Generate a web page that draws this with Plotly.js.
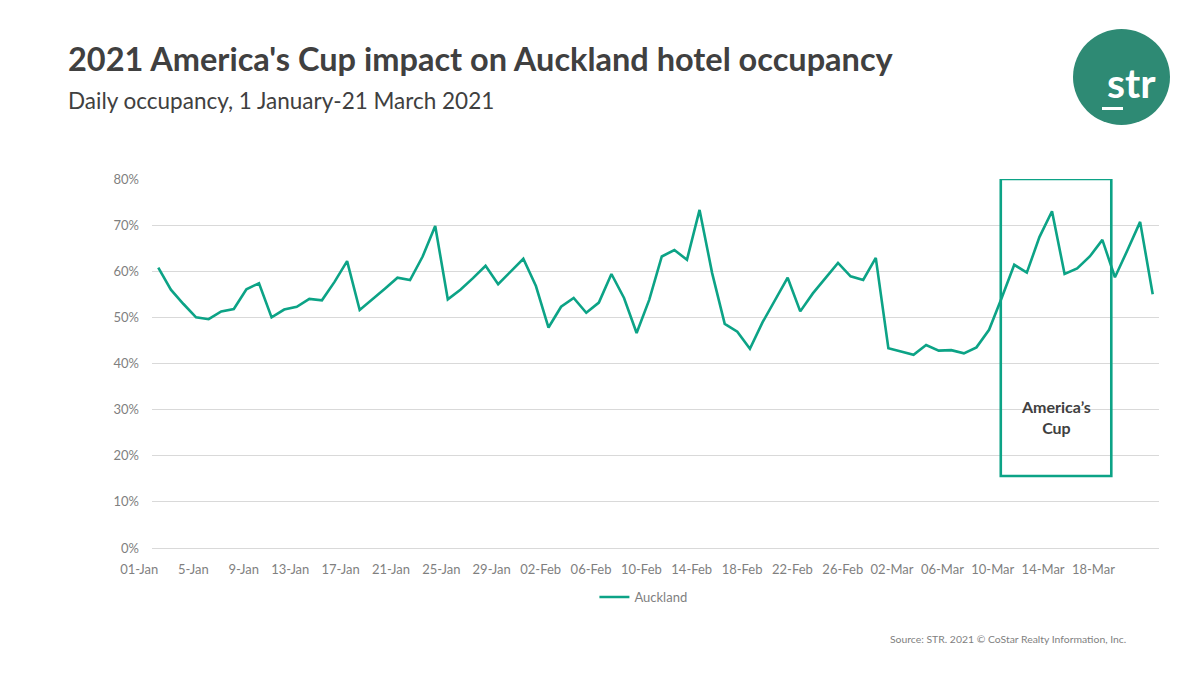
<!DOCTYPE html>
<html>
<head>
<meta charset="utf-8">
<script src="https://cdn.plot.ly/plotly-3.0.1.min.js"></script>
<style>
  html, body { margin: 0; padding: 0; background: #ffffff; }
  #chart { width: 1200px; height: 675px; }
</style>
</head>
<body>
<div id="chart"></div>
<script>
// ---- Data ----
const seriesName = 'Auckland';
const occupancy = [
  60.8, 56.0, 52.9, 50.0, 49.6, 51.3, 51.8, 56.1, 57.4, 50.0,
  51.7, 52.3, 54.0, 53.7, 57.7, 62.2, 51.6, 53.8, 56.2, 58.6,
  58.1, 63.2, 69.8, 53.9, 56.0, 58.5, 61.2, 57.2, 59.9, 62.7,
  56.8, 47.8, 52.3, 54.2, 51.0, 53.2, 59.4, 54.2, 46.6, 53.8,
  63.2, 64.6, 62.5, 73.3, 59.6, 48.6, 46.9, 43.2, 48.9, 53.8,
  58.6, 51.3, 55.2, 58.5, 61.8, 58.9, 58.1, 62.9, 43.3, 42.6,
  41.9, 44.0, 42.8, 42.9, 42.2, 43.5, 47.3, 54.2, 61.4, 59.7,
  67.4, 73.0, 59.4, 60.6, 63.2, 66.8, 58.7, 64.6, 70.7, 55.0
];
const tickLabels = ['01-Jan','5-Jan','9-Jan','13-Jan','17-Jan','21-Jan','25-Jan','29-Jan',
  '02-Feb','06-Feb','10-Feb','14-Feb','18-Feb','22-Feb','26-Feb',
  '02-Mar','06-Mar','10-Mar','14-Mar','18-Mar'];
const yTicks = [0, 10, 20, 30, 40, 50, 60, 70, 80];

// Day categories 1 Jan - 21 Mar 2021
const months = ['Jan','Feb','Mar'];
const monthDays = [31, 28, 31];
const days = [];
for (let m = 0; m < 3 && days.length < occupancy.length; m++) {
  for (let d = 1; d <= monthDays[m] && days.length < occupancy.length; d++) {
    days.push((d < 10 ? '0' + d : '' + d) + '-' + months[m]);
  }
}
const tickVals = tickLabels.map((t, i) => days[i * 4]);

// ---- Styles ----
const teal = '#0ca386';
const font = 'Lato, "Open Sans", sans-serif';

// plot area pixel helpers for paper coordinates
const L = 152, R = 1159, T = 179, B = 548;
const px = x => (x - L) / (R - L);
const py = y => (B - y) / (B - T);

const trace = {
  x: days,
  y: occupancy,
  type: 'scatter',
  mode: 'lines',
  name: seriesName,
  line: { color: teal, width: 2.6 },
  hoverinfo: 'x+y'
};

const layout = {
  width: 1200,
  height: 675,
  paper_bgcolor: '#ffffff',
  plot_bgcolor: '#ffffff',
  margin: { l: L, r: 1200 - R, t: T, b: 675 - B, pad: 0 },
  font: { family: font, color: '#7f7f7f', size: 13 },
  showlegend: true,
  legend: {
    orientation: 'h',
    x: 0.488, xanchor: 'center',
    y: py(597), yanchor: 'middle',
    font: { family: font, size: 13, color: '#7f7f7f' },
    itemwidth: 30
  },
  xaxis: {
    type: 'category',
    range: [-0.5, occupancy.length - 0.5],
    tickmode: 'array',
    tickvals: tickVals,
    ticktext: tickLabels,
    ticks: '',
    tickangle: 0,
    ticklabelposition: 'outside left',
    ticklabelstandoff: 12,
    showgrid: false,
    showline: false,
    zeroline: false,
    tickfont: { family: font, size: 13, color: '#7f7f7f' },
    fixedrange: true
  },
  yaxis: {
    range: [0, 80],
    tickmode: 'array',
    tickvals: yTicks,
    ticktext: yTicks.map(v => v + '%'),
    ticks: '',
    ticklabelstandoff: 12,
    showgrid: true,
    gridcolor: '#d9d9d9',
    gridwidth: 1,
    zeroline: true,
    zerolinecolor: '#d9d9d9',
    zerolinewidth: 1,
    showline: false,
    tickfont: { family: font, size: 13, color: '#7f7f7f' },
    fixedrange: true
  },
  shapes: [
    // America's Cup highlight box
    { type: 'rect', xref: 'x', yref: 'y', x0: 66.93, x1: 75.71, y0: 15.6, y1: 80,
      line: { color: teal, width: 2.6 }, fillcolor: 'rgba(0,0,0,0)', layer: 'above' },
    // logo circle
    { type: 'circle', xref: 'paper', yref: 'paper',
      x0: px(1073), x1: px(1170), y0: py(125), y1: py(29),
      line: { width: 0 }, fillcolor: '#2e8a74' },
    // logo underline
    { type: 'line', xref: 'paper', yref: 'paper',
      x0: px(1102), x1: px(1123), y0: py(108.5), y1: py(108.5),
      line: { color: '#ffffff', width: 3 } }
  ],
  annotations: [
    { text: "<b>2021 America's Cup impact on Auckland hotel occupancy</b>",
      xref: 'paper', yref: 'paper', x: px(66), y: py(58), xanchor: 'left', yanchor: 'middle',
      showarrow: false, font: { family: font, size: 32.5, color: '#404040' } },
    { text: 'Daily occupancy, 1 January-21 March 2021',
      xref: 'paper', yref: 'paper', x: px(66), y: py(100), xanchor: 'left', yanchor: 'middle',
      showarrow: false, font: { family: font, size: 22.5, color: '#404040' } },
    { text: '<b>America\u2019s<br>Cup</b>',
      xref: 'x', yref: 'y', x: 71.32, y: 28.4, xanchor: 'center', yanchor: 'middle',
      showarrow: false, font: { family: font, size: 16, color: '#404040' } },
    { text: 'Source: STR. 2021 \u00a9 CoStar Realty Information, Inc.',
      xref: 'paper', yref: 'paper', x: px(1128), y: py(639), xanchor: 'right', yanchor: 'middle',
      showarrow: false, font: { family: font, size: 10.4, color: '#7f7f7f' } },
    { text: '<b>str</b>',
      xref: 'paper', yref: 'paper', x: px(1131), y: py(82), xanchor: 'center', yanchor: 'middle',
      showarrow: false, font: { family: font, size: 41, color: '#ffffff' } }
  ]
};

Plotly.newPlot('chart', [trace], layout, { displayModeBar: false, staticPlot: true });
</script>
</body>
</html>
